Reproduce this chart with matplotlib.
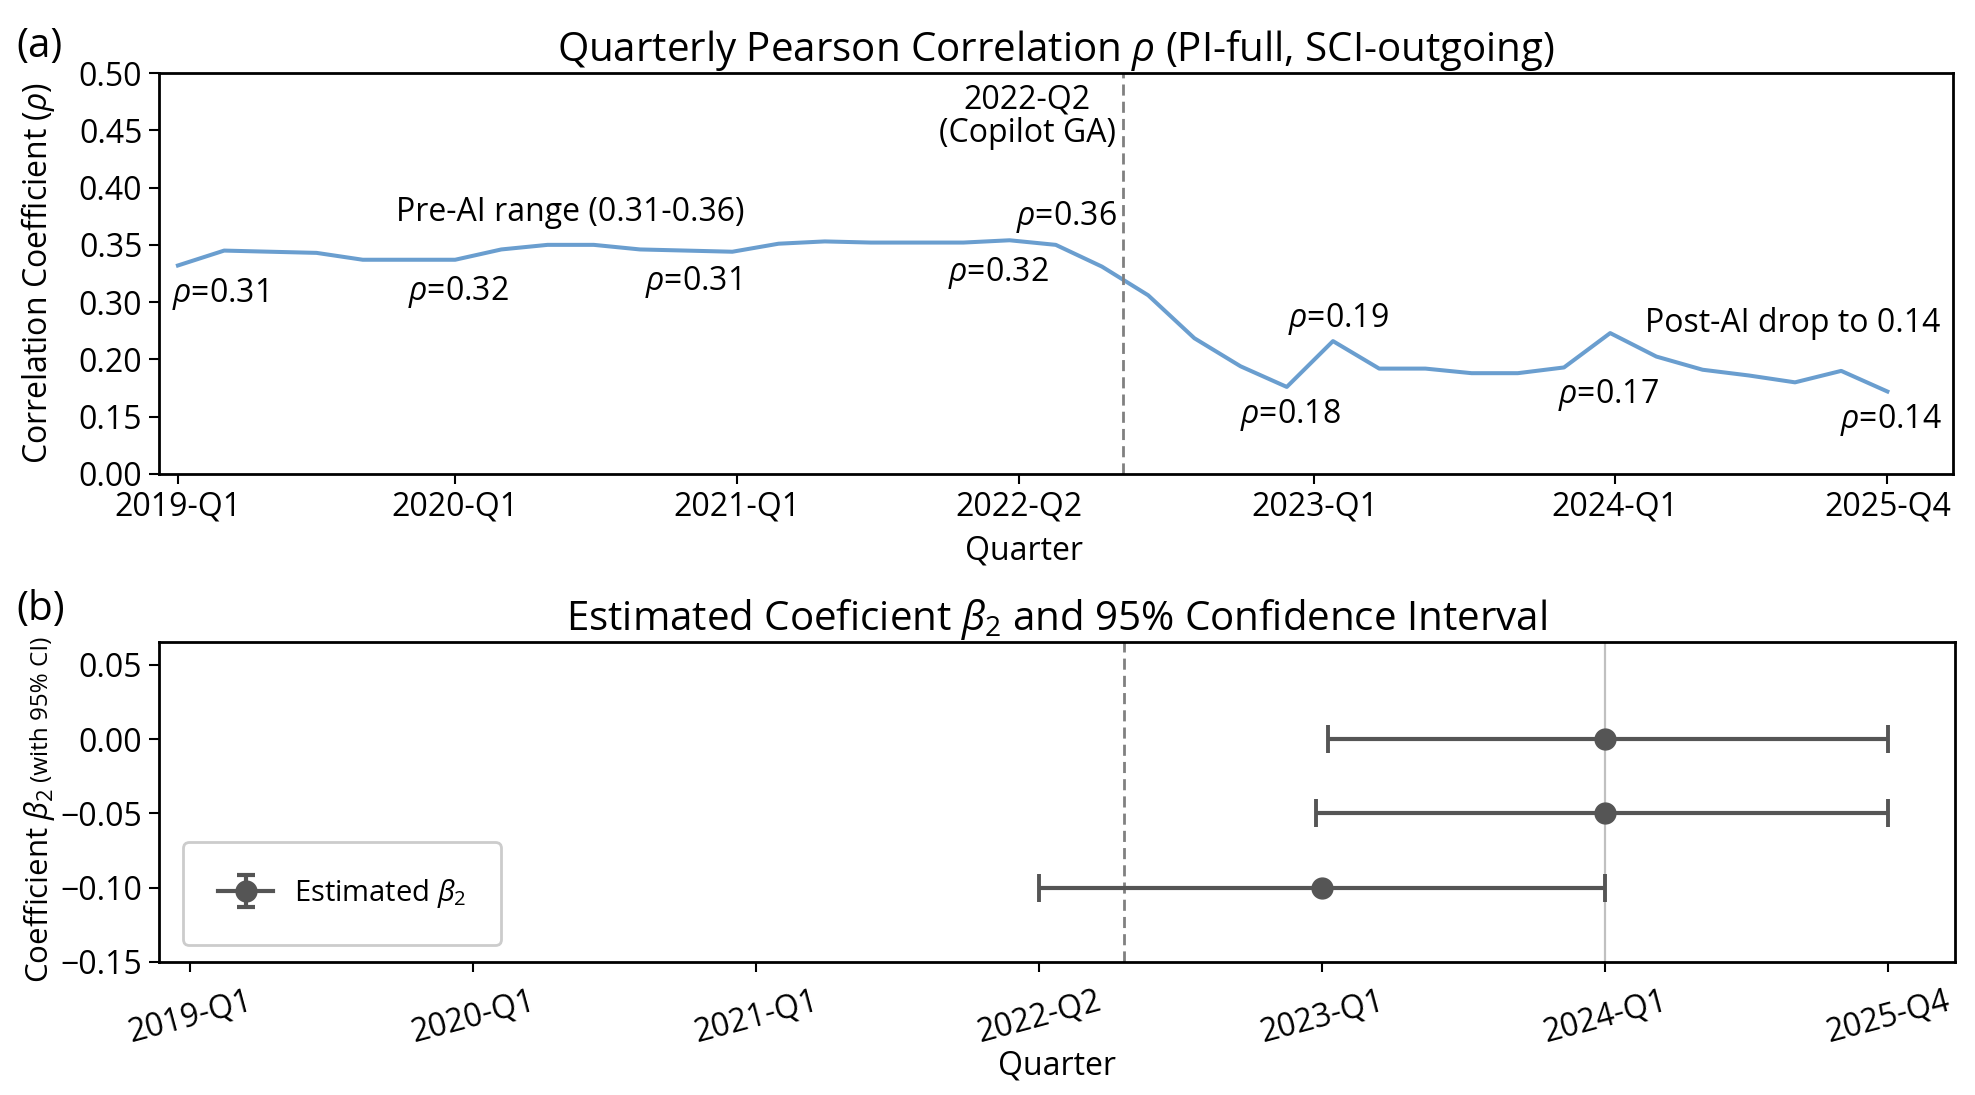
import numpy as np
import matplotlib
matplotlib.use('Agg')
import matplotlib.pyplot as plt
from matplotlib.ticker import FixedLocator, FuncFormatter, NullLocator
from matplotlib.legend_handler import HandlerErrorbar
from matplotlib.container import ErrorbarContainer

plt.rcParams['font.family'] = ['Open Sans', 'DejaVu Sans']
plt.rcParams['mathtext.fontset'] = 'custom'
plt.rcParams['mathtext.rm'] = 'Open Sans'
plt.rcParams['mathtext.it'] = 'Open Sans:italic'
plt.rcParams['mathtext.bf'] = 'Open Sans:bold'

# ---------------- data ----------------
# panel (a): quarterly Pearson correlation (values read against the printed tick labels)
rho = [0.332, 0.345, 0.344, 0.343, 0.337, 0.337, 0.337, 0.346, 0.350, 0.350,
       0.346, 0.345, 0.344, 0.351, 0.353, 0.352, 0.352, 0.352, 0.354, 0.350,
       0.331, 0.306, 0.237, 0.194, 0.176, 0.232, 0.192, 0.192, 0.188, 0.188,
       0.193, 0.246, 0.205, 0.191, 0.186, 0.180, 0.190, 0.172]
a_tick_labels = ['2019-Q1', '2020-Q1', '2021-Q1', '2022-Q2', '2023-Q1', '2024-Q1', '2025-Q4']
a_tick_pos = [0, 6, 12.1, 18.2, 24.6, 31.1, 37]
a_ytick_values = [0.00, 0.15, 0.20, 0.30, 0.35, 0.40, 0.45, 0.50]
copilot_a = 20.46

# panel (b): estimated beta_2 with 95% CI (x on the quarter-tick axis)
b_tick_labels = ['2019-Q1', '2020-Q1', '2021-Q1', '2022-Q2', '2023-Q1', '2024-Q1', '2025-Q4']
beta_coef = [0.00, -0.05, -0.10]
beta_center = [5.0, 5.0, 4.0]
beta_low = [4.02, 3.98, 3.0]
beta_high = [6.0, 6.0, 5.0]
b_yticks = [0.05, 0.00, -0.05, -0.10, -0.15]
copilot_b = 3.30
ref_line_b = 5.0

# annotations panel (a): text, x(left), y(baseline)
annots = [
    (r'$\rho$=0.31', -0.13, 0.3004),
    (r'$\rho$=0.32', 4.98, 0.3019),
    (r'$\rho$=0.31', 10.11, 0.3106),
    (r'$\rho$=0.32', 16.67, 0.3187),
    (r'$\rho$=0.36', 18.15, 0.3673),
    ('Pre-AI range (0.31-0.36)', 4.73, 0.3711),
    (r'$\rho$=0.19', 24.03, 0.2571),
    (r'$\rho$=0.18', 22.99, 0.1327),
    (r'$\rho$=0.17', 29.87, 0.1617),
    ('Post-AI drop to 0.14', 31.75, 0.2484),
    (r'$\rho$=0.14', 35.97, 0.1197),
]

# ---------------- figure ----------------
W, H = 1975, 1095
fig = plt.figure(figsize=(W / 100, H / 100), dpi=100)

def fx(px):
    return px / W

def fy(py):
    return 1 - py / H

axa = fig.add_axes([fx(159), fy(474), fx(1953) - fx(159), fy(73) - fy(474)])
axb = fig.add_axes([fx(158.5), fy(962), fx(1955) - fx(158.5), fy(641.7) - fy(962)])

TICK_FS = 23
ANN_FS = 23
TITLE_FS = 29
LINE_BLUE = '#6a9ecf'
GRAY = '#555555'
DASH = (0, (4.0, 2.2))

# --- panel (a) scale: printed tick labels are evenly spaced ---
pos_idx = np.arange(len(a_ytick_values), dtype=float)
vals = np.array(a_ytick_values)

def fwd(v):
    return np.interp(v, vals, pos_idx)

def inv(p):
    return np.interp(p, pos_idx, vals)

axa.set_yscale('function', functions=(fwd, inv))
x_a = np.arange(len(rho))
axa.plot(x_a, rho, color=LINE_BLUE, lw=2.9, solid_joinstyle='round')
axa.axvline(copilot_a, color='#808080', lw=2.0, linestyle=DASH)
axa.set_xlim(-0.41, 38.42)
axa.set_ylim(0, 0.5)
axa.yaxis.set_major_locator(FixedLocator(a_ytick_values))
axa.yaxis.set_minor_locator(NullLocator())
axa.yaxis.set_major_formatter(FuncFormatter(lambda v, p: f'{v:.2f}'))
axa.set_xticks(a_tick_pos)
axa.set_xticklabels(a_tick_labels)
axa.tick_params(axis='both', labelsize=TICK_FS, length=7, width=1.5, direction='out')
axa.tick_params(axis='x', pad=5)
axa.tick_params(axis='y', pad=5)
axa.set_title(r'Quarterly Pearson Correlation $\rho$ (PI-full, SCI-outgoing)', fontsize=TITLE_FS, pad=8)
axa.set_xlabel('Quarter', fontsize=TICK_FS)
axa.xaxis.set_label_coords(0.482, -0.15)
axa.set_ylabel(r'Correlation Coefficient ($\rho$)', fontsize=TICK_FS)
axa.yaxis.set_label_coords(-0.057, 0.5)

for txt, x, y in annots:
    axa.text(x, y, txt, fontsize=ANN_FS, ha='left', va='baseline')
axa.text(20.3, 0.4904, '2022-Q2\n(Copilot GA)', fontsize=ANN_FS, ha='right', va='top',
         multialignment='center', linespacing=1.0)

# --- panel (b) ---
c = np.array(beta_center)
xerr = [c - np.array(beta_low), np.array(beta_high) - c]
axb.axvline(ref_line_b, color='#c0c0c0', lw=1.6, zorder=1)
axb.axvline(copilot_b, color='#808080', lw=2.0, linestyle=DASH, zorder=1)
axb.errorbar(beta_center, beta_coef, xerr=xerr, fmt='o', color=GRAY, ecolor=GRAY,
             elinewidth=3.0, capsize=10, capthick=2.8, markersize=15, zorder=3)
# legend proxy (vertical error-bar glyph as in the original legend); NaN point is not drawn
axb.errorbar([np.nan], [np.nan], yerr=[0.01], fmt='-o', color=GRAY, ecolor=GRAY, lw=3.0,
             elinewidth=3.0, capsize=6.5, capthick=3.0, markersize=15,
             label=r'Estimated $\beta_2$')
axb.set_xlim(-0.111, 6.237)
axb.set_ylim(-0.15, 0.0655)
axb.set_xticks(range(len(b_tick_labels)))
axb.set_xticklabels(b_tick_labels, rotation=15, ha='center')
axb.set_yticks(b_yticks)
axb.yaxis.set_major_formatter(FuncFormatter(lambda v, p: f'{v:.2f}'.replace('-0.00', '0.00').replace('-', '\u2212')))
axb.tick_params(axis='both', labelsize=TICK_FS, length=7, width=1.5, direction='out')
axb.tick_params(axis='x', pad=9)
axb.tick_params(axis='y', pad=5)
axb.set_title(r'Estimated Coeficient $\beta_2$ and 95% Confidence Interval', fontsize=TITLE_FS, pad=8)
axb.set_xlabel('Quarter', fontsize=TICK_FS)
axb.xaxis.set_label_coords(0.5, -0.272)
leg = axb.legend(loc='lower left', bbox_to_anchor=(0.0136, 0.053), borderaxespad=0,
                 fontsize=21, borderpad=1.2, handlelength=1.9, handletextpad=0.7,
                 frameon=True, fancybox=True, framealpha=1.0,
                 handler_map={ErrorbarContainer: HandlerErrorbar(xerr_size=0.5, yerr_size=0.55)})
leg.get_frame().set_edgecolor('#cccccc')
leg.get_frame().set_linewidth(2.0)

for ax in (axa, axb):
    for s in ax.spines.values():
        s.set_linewidth(2.0)
        s.set_color('black')

# panel letters
fig.text(fx(16), fy(57), '(a)', fontsize=TITLE_FS, ha='left', va='baseline')
fig.text(fx(16), fy(620), '(b)', fontsize=TITLE_FS, ha='left', va='baseline')

# panel (b) y-label with smaller suffix
t1 = fig.text(fx(40), fy(983), r'Coefficient $\beta_2$', fontsize=22.5, rotation=90,
              ha='center', va='bottom')
fig.canvas.draw()
bb = t1.get_window_extent(renderer=fig.canvas.get_renderer())
fig.text(fx(42), (bb.y1 + 6) / H, '(with 95% CI)', fontsize=17.5, rotation=90,
         ha='center', va='bottom')

fig.savefig('out.png', dpi=100, facecolor='white')
